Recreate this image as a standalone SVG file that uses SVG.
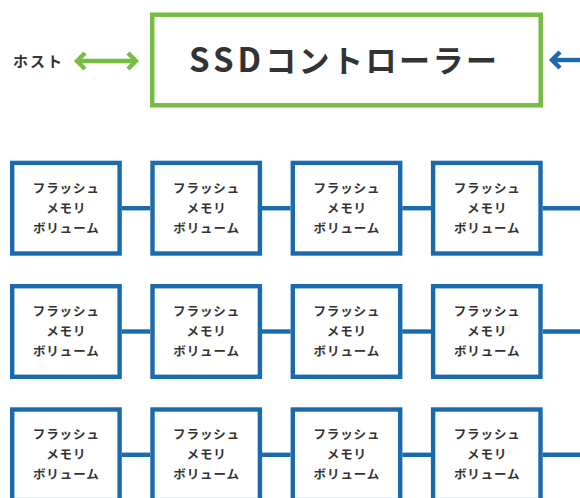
<svg xmlns="http://www.w3.org/2000/svg" width="580" height="498" viewBox="0 0 580 498">
<style>
  .lbl { font-family: "Noto Sans CJK JP", "Noto Sans", sans-serif; font-weight: bold; fill: #333333; }
  .vol { fill: #ffffff; stroke: #1a6aae; stroke-width: 4.4; }
  .vt { font-size: 12.5px; letter-spacing: 0.9px; text-anchor: middle; }
  .conn { stroke: #1a6aae; stroke-width: 4.4; fill: none; }
</style>
<defs>
  <marker id="gchev" markerUnits="userSpaceOnUse" viewBox="-12 -12 16 24" refX="0" refY="0" markerWidth="16" markerHeight="24" orient="auto-start-reverse" overflow="visible">
    <polyline points="-8,-8 0,0 -8,8" fill="none" stroke="#76bd43" stroke-width="4.4" stroke-linejoin="miter"/>
  </marker>
  <marker id="bchev" markerUnits="userSpaceOnUse" viewBox="-12 -12 16 24" refX="0" refY="0" markerWidth="16" markerHeight="24" orient="auto-start-reverse" overflow="visible">
    <polyline points="-8,-8 0,0 -8,8" fill="none" stroke="#1a6aae" stroke-width="4.4" stroke-linejoin="miter"/>
  </marker>
</defs>
<rect width="580" height="498" fill="#ffffff"/>

<g id="host">
  <text class="lbl" x="13" y="67" font-size="15" letter-spacing="2">ホスト</text>
</g>

<g id="controller">
  <rect x="152.2" y="14.7" width="388.5" height="90.6" fill="#ffffff" stroke="#76bd43" stroke-width="4.5"/>
  <text class="lbl" x="189" y="72" font-size="31"><tspan font-size="33" letter-spacing="4">SSD</tspan><tspan letter-spacing="2.5">コントローラー</tspan></text>
</g>

<g id="connectors">
  <line x1="77" y1="61" x2="136" y2="61" stroke="#76bd43" stroke-width="4.4" marker-start="url(#gchev)" marker-end="url(#gchev)"/>
  <line x1="580" y1="60" x2="552" y2="60" stroke="#1a6aae" stroke-width="4.4" marker-end="url(#bchev)"/>
  <line class="conn" x1="121.7" y1="208.2" x2="150.3" y2="208.2"/>
  <line class="conn" x1="262" y1="208.2" x2="290.6" y2="208.2"/>
  <line class="conn" x1="402.3" y1="208.2" x2="431" y2="208.2"/>
  <line class="conn" x1="542.7" y1="208.2" x2="580" y2="208.2"/>
  <line class="conn" x1="121.7" y1="331.5" x2="150.3" y2="331.5"/>
  <line class="conn" x1="262" y1="331.5" x2="290.6" y2="331.5"/>
  <line class="conn" x1="402.3" y1="331.5" x2="431" y2="331.5"/>
  <line class="conn" x1="542.7" y1="331.5" x2="580" y2="331.5"/>
  <line class="conn" x1="121.7" y1="454.8" x2="150.3" y2="454.8"/>
  <line class="conn" x1="262" y1="454.8" x2="290.6" y2="454.8"/>
  <line class="conn" x1="402.3" y1="454.8" x2="431" y2="454.8"/>
  <line class="conn" x1="542.7" y1="454.8" x2="580" y2="454.8"/>
</g>

<g id="vol-r1c1"><rect class="vol" x="12.2" y="162.9" width="107.4" height="90.6"/>
  <text class="lbl vt" x="66.3" y="192.5">フラッシュ</text><text class="lbl vt" x="66.3" y="212.5">メモリ</text><text class="lbl vt" x="66.3" y="232.5">ボリューム</text></g>
<g id="vol-r1c2"><rect class="vol" x="152.5" y="162.9" width="107.4" height="90.6"/>
  <text class="lbl vt" x="206.6" y="192.5">フラッシュ</text><text class="lbl vt" x="206.6" y="212.5">メモリ</text><text class="lbl vt" x="206.6" y="232.5">ボリューム</text></g>
<g id="vol-r1c3"><rect class="vol" x="292.8" y="162.9" width="107.4" height="90.6"/>
  <text class="lbl vt" x="346.9" y="192.5">フラッシュ</text><text class="lbl vt" x="346.9" y="212.5">メモリ</text><text class="lbl vt" x="346.9" y="232.5">ボリューム</text></g>
<g id="vol-r1c4"><rect class="vol" x="433.1" y="162.9" width="107.4" height="90.6"/>
  <text class="lbl vt" x="487.2" y="192.5">フラッシュ</text><text class="lbl vt" x="487.2" y="212.5">メモリ</text><text class="lbl vt" x="487.2" y="232.5">ボリューム</text></g>

<g id="vol-r2c1"><rect class="vol" x="12.2" y="286.2" width="107.4" height="90.6"/>
  <text class="lbl vt" x="66.3" y="315.8">フラッシュ</text><text class="lbl vt" x="66.3" y="335.8">メモリ</text><text class="lbl vt" x="66.3" y="355.8">ボリューム</text></g>
<g id="vol-r2c2"><rect class="vol" x="152.5" y="286.2" width="107.4" height="90.6"/>
  <text class="lbl vt" x="206.6" y="315.8">フラッシュ</text><text class="lbl vt" x="206.6" y="335.8">メモリ</text><text class="lbl vt" x="206.6" y="355.8">ボリューム</text></g>
<g id="vol-r2c3"><rect class="vol" x="292.8" y="286.2" width="107.4" height="90.6"/>
  <text class="lbl vt" x="346.9" y="315.8">フラッシュ</text><text class="lbl vt" x="346.9" y="335.8">メモリ</text><text class="lbl vt" x="346.9" y="355.8">ボリューム</text></g>
<g id="vol-r2c4"><rect class="vol" x="433.1" y="286.2" width="107.4" height="90.6"/>
  <text class="lbl vt" x="487.2" y="315.8">フラッシュ</text><text class="lbl vt" x="487.2" y="335.8">メモリ</text><text class="lbl vt" x="487.2" y="355.8">ボリューム</text></g>

<g id="vol-r3c1"><rect class="vol" x="12.2" y="409.5" width="107.4" height="90.6"/>
  <text class="lbl vt" x="66.3" y="439.1">フラッシュ</text><text class="lbl vt" x="66.3" y="459.1">メモリ</text><text class="lbl vt" x="66.3" y="479.1">ボリューム</text></g>
<g id="vol-r3c2"><rect class="vol" x="152.5" y="409.5" width="107.4" height="90.6"/>
  <text class="lbl vt" x="206.6" y="439.1">フラッシュ</text><text class="lbl vt" x="206.6" y="459.1">メモリ</text><text class="lbl vt" x="206.6" y="479.1">ボリューム</text></g>
<g id="vol-r3c3"><rect class="vol" x="292.8" y="409.5" width="107.4" height="90.6"/>
  <text class="lbl vt" x="346.9" y="439.1">フラッシュ</text><text class="lbl vt" x="346.9" y="459.1">メモリ</text><text class="lbl vt" x="346.9" y="479.1">ボリューム</text></g>
<g id="vol-r3c4"><rect class="vol" x="433.1" y="409.5" width="107.4" height="90.6"/>
  <text class="lbl vt" x="487.2" y="439.1">フラッシュ</text><text class="lbl vt" x="487.2" y="459.1">メモリ</text><text class="lbl vt" x="487.2" y="479.1">ボリューム</text></g>
</svg>
